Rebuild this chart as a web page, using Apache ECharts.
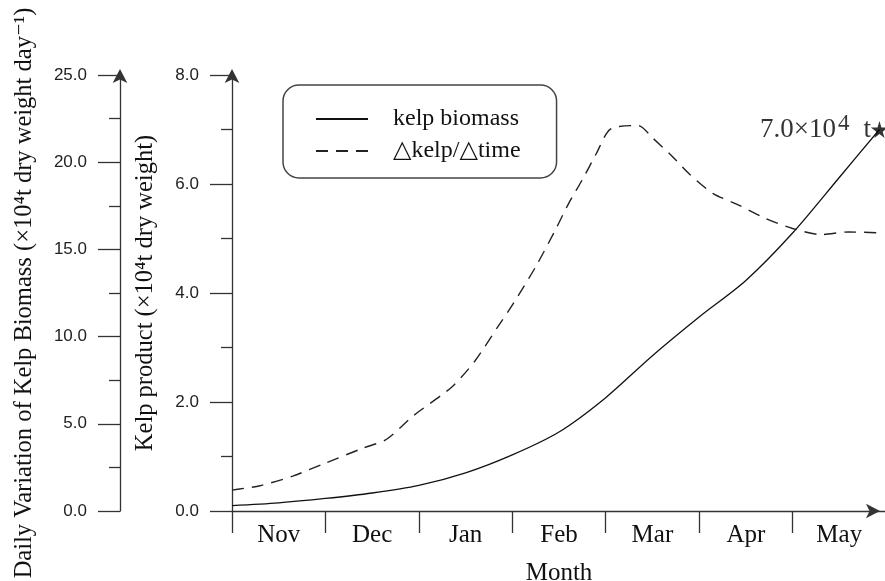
<!DOCTYPE html>
<html>
<head>
<meta charset="utf-8">
<script src="https://cdn.jsdelivr.net/npm/echarts@6/dist/echarts.min.js"></script>
<style>
  html, body { margin: 0; padding: 0; background: #fff; }
  #chart { width: 885px; height: 581px; }
</style>
</head>
<body>
<div id="chart"></div>
<script>
// Month names shown under the time axis (one per month interval)
const months = ['Nov', 'Dec', 'Jan', 'Feb', 'Mar', 'Apr', 'May'];

// Kelp biomass (×10^4 t dry weight), time in months since 1 Nov
const biomassTime  = [0.0, 0.5, 1.0, 1.5, 2.0, 2.5, 3.0, 3.5, 4.0, 4.5, 5.0, 5.5, 6.0, 6.5, 6.93];
const biomassValue = [0.10, 0.15, 0.23, 0.33, 0.47, 0.70, 1.03, 1.45, 2.08, 2.85, 3.56, 4.23, 5.10, 6.12, 7.0];

// Daily variation of biomass (×10^4 t dry weight per day)
const rateTime  = [0.0, 0.3, 0.65, 1.0, 1.4, 1.65, 1.95, 2.35, 2.6, 2.85, 3.0, 3.25, 3.45, 3.6, 3.75, 3.9, 4.05, 4.35, 4.5, 4.7, 4.9, 5.15, 5.4, 5.7, 6.0, 6.3, 6.6, 6.93];
const rateValue = [1.2, 1.45, 2.0, 2.75, 3.6, 4.1, 5.5, 7.1, 8.6, 10.6, 11.8, 14.0, 16.0, 17.6, 19.0, 20.5, 21.9, 22.1, 21.4, 20.4, 19.3, 18.2, 17.6, 16.8, 16.2, 15.85, 16.0, 15.95];

// Axis tick values
const productTicks = [0, 2, 4, 6, 8];
const rateTicks = [0, 5, 10, 15, 20, 25];

const zip = (xs, ys) => xs.map((x, i) => [x, ys[i]]);
const monthBounds = months.map((_, i) => i).concat([months.length]);
const monthCentres = months.map((_, i) => i + 0.5);

const serif = '"Liberation Serif", "DejaVu Serif", serif';
const sans = '"Liberation Sans", Arial, sans-serif';
const axisColor = '#333';
const starPath = 'path://M50,0 L61,35 L98,35 L68,57 L79,91 L50,70 L21,91 L32,57 L2,35 L39,35 Z';

const lastIdx = biomassTime.length - 1;
const finalTons = biomassValue[lastIdx];

function yAxisCommon(ticks) {
  return {
    type: 'value',
    position: 'left',
    min: ticks[0],
    max: ticks[ticks.length - 1],
    interval: ticks[1] - ticks[0],
    splitLine: { show: false },
    axisLine: {
      show: true,
      lineStyle: { color: axisColor, width: 1.3 },
      symbol: ['none', 'arrow'],
      symbolSize: [11, 14],
      symbolOffset: [0, 6]
    },
    axisTick: { show: true, inside: false, length: 22, lineStyle: { color: axisColor, width: 1.3 } },
    minorTick: { show: true, splitNumber: 2, length: 11, lineStyle: { color: axisColor, width: 1.3 } },
    axisLabel: {
      margin: 33,
      fontFamily: sans,
      fontSize: 17,
      color: '#222',
      formatter: v => v.toFixed(1)
    },
    nameLocation: 'middle',
    nameTextStyle: { fontFamily: serif, fontSize: 24.5, color: '#111' }
  };
}

const chart = echarts.init(document.getElementById('chart'), null, { renderer: 'canvas' });

const option = {
  backgroundColor: '#fff',
  animation: false,
  grid: { left: 232, top: 75, bottom: 70, width: 654, containLabel: false, outerBoundsMode: 'none' },
  legend: {
    left: 283,
    top: 85,
    orient: 'vertical',
    data: ['kelp biomass', '△kelp/△time'],
    itemWidth: 52,
    itemHeight: 14,
    itemGap: 8,
    padding: [22, 36, 15, 32],
    borderColor: '#444',
    borderWidth: 1.5,
    borderRadius: 16,
    itemStyle: { opacity: 0 },
    textStyle: { fontFamily: serif, fontSize: 24, color: '#111', padding: [0, 0, 0, 20] }
  },
  xAxis: {
    type: 'value',
    min: 0,
    max: months.length,
    name: 'Month',
    nameLocation: 'middle',
    nameGap: 50,
    nameTextStyle: { fontFamily: serif, fontSize: 25, color: '#111' },
    splitLine: { show: false },
    axisLine: {
      show: true,
      lineStyle: { color: axisColor, width: 1.3 },
      symbol: ['none', 'arrow'],
      symbolSize: [11, 14],
      symbolOffset: [0, -6]
    },
    axisTick: { show: true, inside: false, length: 22, customValues: monthBounds, lineStyle: { color: axisColor, width: 1.3 } },
    axisLabel: {
      customValues: monthCentres,
      margin: 12,
      fontFamily: serif,
      fontSize: 25,
      color: '#111',
      formatter: v => months[Math.floor(v)]
    }
  },
  yAxis: [
    Object.assign(yAxisCommon(productTicks), {
      name: 'Kelp product (×10⁴t dry weight)',
      nameGap: 74,
      offset: 0
    }),
    Object.assign(yAxisCommon(rateTicks), {
      name: 'Daily Variation of Kelp Biomass (×10⁴t dry weight day⁻¹)',
      nameGap: 83,
      offset: 112
    })
  ],
  series: [
    {
      name: 'kelp biomass',
      type: 'line',
      xAxisIndex: 0,
      yAxisIndex: 0,
      data: zip(biomassTime, biomassValue),
      smooth: 0.3,
      symbol: 'none',
      lineStyle: { color: '#111', width: 1.3, type: 'solid' },
      itemStyle: { color: '#111' }
    },
    {
      name: '△kelp/△time',
      type: 'line',
      xAxisIndex: 0,
      yAxisIndex: 1,
      data: zip(rateTime, rateValue),
      smooth: 0.25,
      symbol: 'none',
      lineStyle: { color: '#222', width: 1.4, type: [12, 8] },
      itemStyle: { color: '#222' }
    },
    {
      name: 'final',
      type: 'scatter',
      xAxisIndex: 0,
      yAxisIndex: 0,
      data: [[biomassTime[lastIdx], finalTons]],
      symbol: starPath,
      symbolSize: 17,
      itemStyle: { color: '#000' },
      label: {
        show: true,
        position: 'left',
        distance: 0,
        formatter: '{a|' + finalTons.toFixed(1) + '×10}{s|4}{t|t}',
        rich: {
          a: { fontFamily: serif, fontSize: 27, color: '#000' },
          s: { fontFamily: serif, fontSize: 23, color: '#000', padding: [0, 0, 12, 2] },
          t: { fontFamily: serif, fontSize: 27, color: '#000', padding: [0, 0, 0, 14] }
        }
      },
      z: 5
    }
  ]
};

chart.setOption(option);
</script>
</body>
</html>
